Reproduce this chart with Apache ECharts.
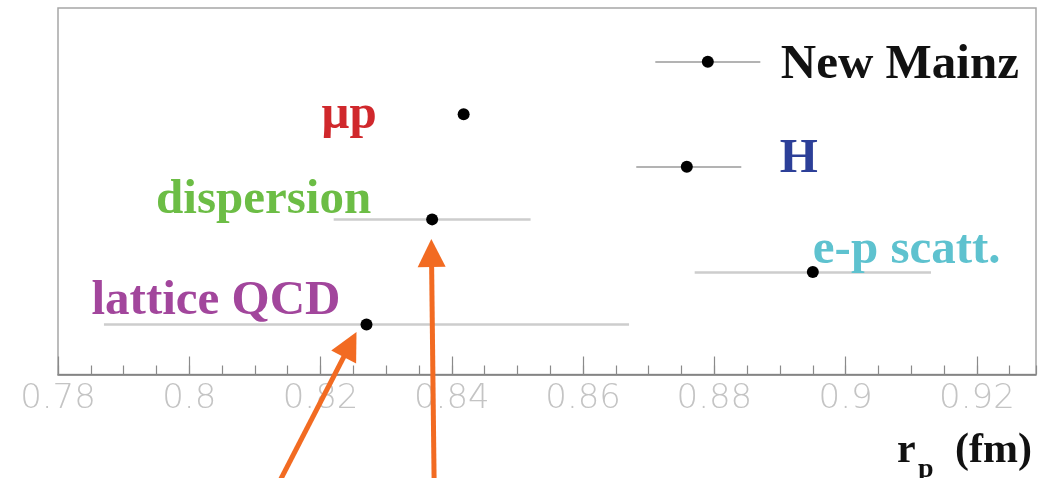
<!DOCTYPE html>
<html>
<head>
    <meta charset="UTF-8">
    <title>proton radius</title>
    <script src="https://cdn.jsdelivr.net/npm/echarts@6/dist/echarts.min.js"></script>
    <style>
      html, body { margin: 0; padding: 0; background: #fff; }
      #container { width: 1051px; height: 478px; }
    </style>
</head>
<body>
<div id="container"></div>
<script>
    // measurements of the proton radius r_p (fm)
    var names = ['New Mainz', 'μp', 'H', 'dispersion', 'e-p scatt.', 'lattice QCD'];
    var radius = [0.879, 0.8418, 0.8758, 0.837, 0.895, 0.827];
    var errLow = [0.871, 0.8411, 0.8681, 0.822, 0.877, 0.787];
    var errHigh = [0.887, 0.8425, 0.8841, 0.852, 0.913, 0.867];
    var rows = [6, 5, 4, 3, 2, 1];

    var majorTicks = [0.78, 0.8, 0.82, 0.84, 0.86, 0.88, 0.9, 0.92];

    // the two orange arrows, [tail, head] in data space
    var arrowTail = [[0.8139, -1.95], [0.8373, -1.95]];
    var arrowHead = [[0.8245, 0.62], [0.8369, 2.36]];

    // label look, keyed by name
    var labelStyle = {
        'New Mainz':   {color: '#111111', pos: 'right', off: [67, 4]},
        'μp':          {color: '#d0282c', pos: 'left',  off: [-81, 1]},
        'H':           {color: '#2c3f98', pos: 'right', off: [87, -7]},
        'dispersion':  {color: '#6cbd45', pos: 'left',  off: [-55, -19]},
        'e-p scatt.':  {color: '#5ec2cf', pos: 'right', off: [-6, -22]},
        'lattice QCD': {color: '#a2469c', pos: 'left',  off: [-20, -23]}
    };
    var darkBars = {'New Mainz': true, 'H': true};

    var dots = [], bars = [], arrows = [];
    for (var i = 0; i < names.length; i++) {
        var st = labelStyle[names[i]];
        dots.push({
            name: names[i],
            value: [radius[i], rows[i]],
            label: {
                show: true,
                formatter: names[i],
                position: st.pos,
                distance: 0,
                offset: st.off,
                color: st.color,
                opacity: 1,
                fontFamily: 'Liberation Serif',
                fontWeight: 'bold',
                fontSize: 49
            }
        });
        bars.push({
            coords: [[errLow[i], rows[i]], [errHigh[i], rows[i]]],
            lineStyle: darkBars[names[i]] ? {color: '#9a9a9a', width: 1.5} : {color: '#cdcdcd', width: 2.5}
        });
    }
    for (var j = 0; j < arrowTail.length; j++) {
        arrows.push({coords: [arrowTail[j], arrowHead[j]]});
    }

    var xMin = 0.78, xMax = 0.929;

    var myChart = echarts.init(document.getElementById('container'));
    var option = {
        backgroundColor: '#ffffff',
        animation: false,
        grid: {
            left: 58, right: 15, top: 8, bottom: 103.5,
            show: true,
            borderColor: '#a6a6a6',
            borderWidth: 1.5
        },
        xAxis: [
            {
                type: 'value', position: 'bottom',
                min: xMin, max: xMax, interval: 0.005,
                axisLine: {show: true, lineStyle: {color: '#7a7a7a', width: 1.5}},
                axisTick: {show: true, inside: true, length: 9, lineStyle: {color: '#8a8a8a', width: 1.2}},
                axisLabel: {show: false},
                splitLine: {show: false}
            },
            {
                type: 'value', position: 'bottom',
                min: xMin, max: xMax, interval: 0.02,
                axisLine: {show: false},
                axisTick: {show: true, inside: true, length: 18, customValues: majorTicks,
                    lineStyle: {color: '#8a8a8a', width: 1.2}},
                axisLabel: {
                    show: true, customValues: majorTicks,
                    margin: 8,
                    color: '#c4c4c4',
                    fontFamily: 'DejaVu Sans',
                    fontWeight: 300,
                    fontSize: 34
                },
                splitLine: {show: false}
            }
        ],
        yAxis: {
            type: 'value', min: 0.05, max: 7.02, show: false
        },
        series: [
            {
                type: 'lines',
                coordinateSystem: 'cartesian2d',
                xAxisIndex: 0,
                symbol: 'none',
                silent: true,
                lineStyle: {opacity: 1},
                data: bars,
                z: 2
            },
            {
                type: 'scatter',
                xAxisIndex: 0,
                symbol: 'circle',
                symbolSize: 12,
                itemStyle: {color: '#000000', opacity: 1},
                data: dots,
                z: 3
            },
            {
                type: 'lines',
                coordinateSystem: 'cartesian2d',
                xAxisIndex: 0,
                clip: false,
                symbol: ['none', 'triangle'],
                symbolSize: 28,
                lineStyle: {color: '#f26b22', width: 5, opacity: 1},
                itemStyle: {color: '#f26b22'},
                silent: true,
                data: arrows,
                z: 5
            }
        ],
        graphic: [
            {type: 'text', left: 897, top: 430,
                style: {text: 'r', font: 'bold 42px "Liberation Serif"', fill: '#111'}},
            {type: 'text', left: 918, top: 456,
                style: {text: 'p', font: 'bold 28px "Liberation Serif"', fill: '#111'}},
            {type: 'text', left: 955, top: 430,
                style: {text: '(fm)', font: 'bold 42px "Liberation Serif"', fill: '#111'}}
        ]
    };
    myChart.setOption(option);
</script>
</body>
</html>
